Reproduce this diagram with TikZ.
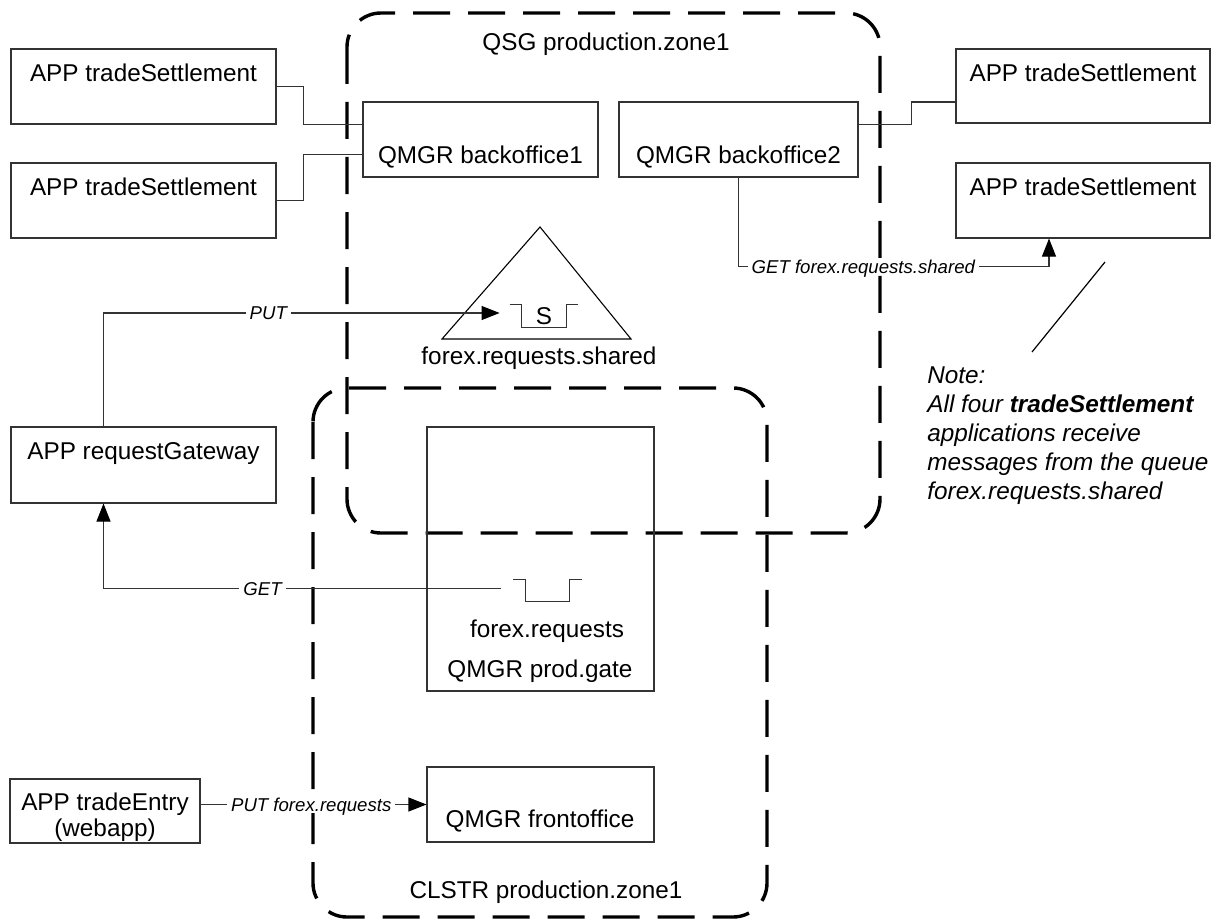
\documentclass[tikz,border=0pt]{standalone}
\usepackage{fontspec}
\setmainfont{Liberation Sans}
\usetikzlibrary{arrows.meta,calc,fit}

\begin{document}
\begin{tikzpicture}[x=0.5pt,y=-0.5pt,
  box/.style={draw=black!80, line width=0.55pt, rectangle, inner sep=0pt},
  txt/.style={font=\fontsize{12.15}{14.5}\selectfont, inner sep=0pt, anchor=base},
  lbl/.style={font=\fontsize{9.3}{11}\selectfont\itshape, fill=white,
    text height=6.7pt, text depth=0pt, inner xsep=2pt, inner ysep=1pt},
  conn/.style={draw=black!80, line width=0.55pt},
  arr/.style={conn, -{Triangle[length=9pt,width=7pt,color=black]}},
  qsym/.style={minimum width=34pt, minimum height=11pt, inner sep=0pt,
    font=\fontsize{12.15}{14.5}\selectfont},
  zone/.style={draw=black, line width=1.7pt, dash pattern=on 18.5pt off 9pt,
    rounded corners=17pt},
]
\useasboundingbox (0,0) rectangle (1221,920);

% queue-sharing group and cluster outlines
\draw[zone] (347,13) rectangle (880,533);
\draw[zone] (313,388) rectangle (767,917);
\node[txt] (qsglabel) at (606,51) {QSG production.zone1};
\node[txt] (clslabel) at (546,898) {CLSTR production.zone1};

% application boxes
\node[box, fit={(11,49) (276,124)}] (ts1) {};
\node[txt] (ts1t) at (143.5,82) {APP tradeSettlement};
\node[box, fit={(11,163) (276,238)}] (ts2) {};
\node[txt] (ts2t) at (143.5,196) {APP tradeSettlement};
\node[box, fit={(956,49) (1210,123)}] (rs1) {};
\node[txt] (rs1t) at (1083,82) {APP tradeSettlement};
\node[box, fit={(956,163) (1210,238)}] (rs2) {};
\node[txt] (rs2t) at (1083,196) {APP tradeSettlement};
\node[box, fit={(11,427) (276,503)}] (rg) {};
\node[txt] (rgt) at (143.5,459) {APP requestGateway};
\node[box, fit={(10,779) (200,843)}] (te) {};
\node[txt] (tet1) at (105,810) {APP tradeEntry};
\node[txt] (tet2) at (105,836) {(webapp)};

% queue managers
\node[box, fit={(363,102) (598,177)}] (bo1) {};
\node[txt] (bo1t) at (480.5,163) {QMGR backoffice1};
\node[box, fit={(619,102) (858,177)}] (bo2) {};
\node[txt] (bo2t) at (738.5,163) {QMGR backoffice2};
\node[box, fit={(427,427) (654,691)}] (pg) {};
\node[txt] (pgq) at (547,637) {forex.requests};
\node[txt] (pgt) at (540,677) {QMGR prod.gate};
\node[box, fit={(427,767) (654,842)}] (fo) {};
\node[txt] (fot) at (540,827) {QMGR frontoffice};

% shared queue in the coupling facility
\draw[line width=0.55pt] (540,227) -- (631,339) -- (442,339) -- cycle;
\node[txt] (sqlabel) at (539,364) {forex.requests.shared};
\node[qsym] (qs) at (544,316) {S};
\draw[conn] (qs.north west) -- ++(12,0) -- ($(qs.south west)+(12,0)$)
  -- ($(qs.south east)+(-12,0)$) -- ($(qs.north east)+(-12,0)$) -- (qs.north east);

% local queue on prod.gate
\node[qsym] (qr) at (547.5,590.5) {};
\draw[conn] (qr.north west) -- ++(12,0) -- ($(qr.south west)+(12,0)$)
  -- ($(qr.south east)+(-12,0)$) -- ($(qr.north east)+(-12,0)$) -- (qr.north east);

% client connections
\draw[conn] (ts1.east) -- ++(27,0) |- ($(bo1.west)+(0,-15)$);
\draw[conn] (ts2.east) -- ++(27,0) |- ($(bo1.west)+(0,15)$);
\draw[conn] ($(bo2.east)+(0,-15)$) -- ++(53,0) |- ($(rs1.west)+(0,16)$);

% message flows
\draw[arr] (bo2.south) |- node[lbl, pos=0.701] {GET forex.requests.shared}
  ($(rs2.south)+(-34,28)$) -- ($(rs2.south)+(-34,0)$);
\draw[arr] ($(rg.north)+(-40,0)$) |- node[lbl, pos=0.708] {PUT}
  ($(qs.west)+(-10,-3)$);
\draw[arr] ($(qr.west)+(-12,-2)$) -| node[lbl, pos=0.3] {GET}
  ($(rg.south)+(-40,0)$);
\draw[arr] (te.east |- fo.west) -- node[lbl, pos=0.49] {PUT forex.requests} (fo.west);

% note
\node[anchor=north west, align=left, inner sep=0pt,
  font=\fontsize{12.15}{14.5}\selectfont\itshape] (note) at (927,366)
  {Note:\\All four \textbf{tradeSettlement}\\applications receive\\messages from the queue\\forex.requests.shared};
\coordinate (notetop) at (1105,262);
\coordinate (notefoot) at (1032,352);
\draw[line width=0.6pt] (notetop) -- (notefoot);
\end{tikzpicture}
\end{document}
